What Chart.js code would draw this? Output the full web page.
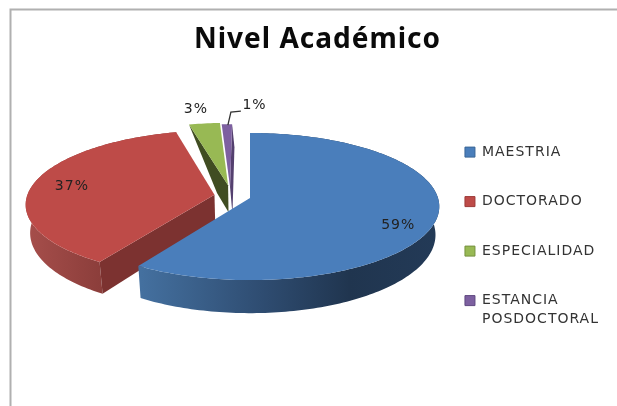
<!DOCTYPE html>
<html>
<head>
<meta charset="utf-8">
<script src="https://cdn.jsdelivr.net/npm/chart.js@4"></script>
<style>
  html, body { margin: 0; padding: 0; background: #fff; }
  #wrap { position: relative; width: 617px; height: 406px; }
  canvas { filter: blur(0.45px); }
</style>
</head>
<body>
<div id="wrap"><canvas id="chart" width="617" height="406"></canvas></div>
<script>
const categories = ['MAESTRIA', 'DOCTORADO', 'ESPECIALIDAD', ['ESTANCIA', 'POSDOCTORAL']];
const values = [59, 37, 3, 1];
const colors = ['#4a7ebb', '#be4b48', '#98b954', '#7d60a0'];
const edgeColors = ['#3a6596', '#9c3a38', '#76913f', '#5f4880'];

// how far each slice is pulled out, in units of the pie radius
const explodeU = [0, -0.19, -0.119, -0.108];
const explodeV = [0, -0.045, -0.178, -0.154];

// radial wall of each slice: which edge, how far it reaches, colour
const walls = [
  null,
  { edge: 'startAngle', reach: 1, color: '#7c3230' },
  { edge: 'startAngle', reach: 0.3, color: '#404d22' },
  { edge: 'endAngle', reach: 1, lean: 2, color: '#54406f' }
];

const labelRadius = [0.8, 0.78, 1.12, 1.12];
const labelNudge = [[0, 11], [-1, 0], [-6, -8], [28, -12]];

// perspective of the tilted pie
const PIE_X = 250;
const PIE_Y = 198;
const SQUASH = 0.386;
const TILT = 0.116;

function project(arc, i, r, angle, lower) {
  const u = explodeU[i] + r * Math.cos(angle);
  const v = explodeV[i] + r * Math.sin(angle);
  const s = 1 / (1 - TILT * v);
  const R = arc.outerRadius;
  let x = PIE_X + R * u * s;
  let y = PIE_Y + R * SQUASH * v * s;
  if (lower) {
    x = PIE_X + (x - PIE_X) * 0.98;
    y += 40 * s - 12.2;
  }
  return { x, y };
}

function polygon(ctx, pts, fill) {
  ctx.beginPath();
  pts.forEach((p, k) => k ? ctx.lineTo(p.x, p.y) : ctx.moveTo(p.x, p.y));
  ctx.closePath();
  ctx.fillStyle = fill;
  ctx.fill();
}

function rim(arc, i, lower) {
  const pts = [];
  const n = Math.max(4, Math.ceil((arc.endAngle - arc.startAngle) / 0.02));
  for (let k = 0; k <= n; k++) {
    pts.push(project(arc, i, 1, arc.startAngle + (arc.endAngle - arc.startAngle) * k / n, lower));
  }
  return pts;
}

function rimGradient(ctx, i) {
  const g = i === 0 ? ctx.createLinearGradient(141, 0, 439, 0) : ctx.createLinearGradient(27, 0, 100, 0);
  if (i === 0) {
    g.addColorStop(0, '#44709f');
    g.addColorStop(0.4, '#2f4d72');
    g.addColorStop(0.7, '#20354f');
    g.addColorStop(1, '#233a57');
  } else {
    g.addColorStop(0, '#a64e4b');
    g.addColorStop(1, '#8c3e3b');
  }
  return g;
}

function drawSlice(ctx, arc, i) {
  // the two thin slices point away from the viewer, their rim does not show
  if (i < 2) {
    polygon(ctx, rim(arc, i, false).concat(rim(arc, i, true).reverse()), rimGradient(ctx, i));
  }
  const w = walls[i];
  if (w) {
    const a = arc[w.edge];
    const lean = w.lean || 0;
    const P = project(arc, i, 1, a, false);
    const A = project(arc, i, 0, a, false);
    const A2 = project(arc, i, 0, a, true);
    const P2 = project(arc, i, 1, a, true);
    polygon(ctx, [P, A, { x: A2.x + lean, y: A2.y }, {
      x: A2.x + lean + (P2.x - A2.x) * w.reach,
      y: A2.y + (P2.y - A2.y) * w.reach
    }], w.color);
  }
  const top = [project(arc, i, 0, arc.startAngle, false)].concat(rim(arc, i, false));
  polygon(ctx, top, colors[i]);
}

const pie3d = {
  id: 'pie3d',
  beforeLayout(chart) {
    chart.ctx.letterSpacing = '1px';
  },
  beforeDraw(chart) {
    const ctx = chart.ctx;
    ctx.save();
    ctx.strokeStyle = '#b0b0b0';
    ctx.lineWidth = 2;
    ctx.beginPath();
    ctx.moveTo(617, 9.5);
    ctx.lineTo(10.5, 9.5);
    ctx.lineTo(10.5, 406);
    ctx.stroke();
    ctx.restore();
  },
  beforeDatasetsDraw(chart) {
    const ctx = chart.ctx;
    const arcs = chart.getDatasetMeta(0).data;
    ctx.save();
    // back to front
    [3, 2, 1, 0].forEach(i => drawSlice(ctx, arcs[i], i));

    // leader of the smallest slice
    const tip = project(arcs[3], 3, 1, (arcs[3].startAngle + arcs[3].endAngle) / 2, false);
    ctx.strokeStyle = '#333';
    ctx.lineWidth = 1.3;
    ctx.beginPath();
    ctx.moveTo(tip.x + 1, tip.y + 1);
    ctx.lineTo(tip.x + 4, tip.y - 12);
    ctx.lineTo(tip.x + 14, tip.y - 13);
    ctx.stroke();

    ctx.font = '14px "DejaVu Sans"';
    ctx.fillStyle = '#222';
    ctx.textAlign = 'center';
    ctx.textBaseline = 'middle';
    arcs.forEach((arc, i) => {
      const p = project(arc, i, labelRadius[i], (arc.startAngle + arc.endAngle) / 2, false);
      ctx.fillText(values[i] + '%', p.x + labelNudge[i][0], p.y + labelNudge[i][1]);
    });
    ctx.restore();
    return false;
  }
};

new Chart(document.getElementById('chart'), {
  type: 'pie',
  plugins: [pie3d],
  data: {
    labels: categories,
    datasets: [{
      data: values,
      backgroundColor: colors,
      borderColor: edgeColors,
      borderWidth: 1,
      radius: 188
    }]
  },
  options: {
    responsive: false,
    animation: false,
    layout: { padding: { left: 26, right: 8 } },
    plugins: {
      tooltip: { enabled: false },
      title: {
        display: true,
        text: 'Nivel Académico',
        color: '#0a0a0a',
        font: { family: '"Noto Sans"', size: 28, weight: 'bold' },
        padding: { top: 23, bottom: 53 }
      },
      legend: {
        position: 'right',
        align: 'start',
        fullSize: false,
        labels: {
          boxWidth: 10,
          boxHeight: 10,
          padding: 35.5,
          color: '#333',
          font: { family: '"DejaVu Sans"', size: 14, lineHeight: 1.36 }
        }
      }
    }
  }
});
</script>
</body>
</html>
